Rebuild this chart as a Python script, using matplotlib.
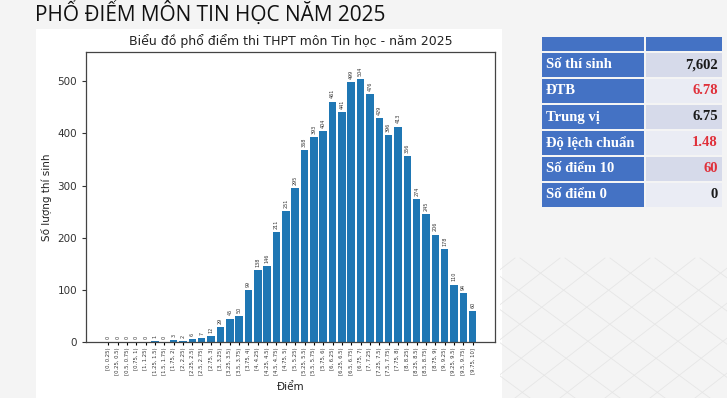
import numpy as np
import matplotlib.pyplot as plt
from matplotlib.patches import Rectangle

# khoảng điểm (40 khoảng, bước 0.25)
khoang = ["[0, 0.25)", "[0.25, 0.5)", "[0.5, 0.75)", "[0.75, 1)", "[1, 1.25)", "[1.25, 1.5)",
          "[1.5, 1.75)", "[1.75, 2)", "[2, 2.25)", "[2.25, 2.5)", "[2.5, 2.75)", "[2.75, 3)",
          "[3, 3.25)", "[3.25, 3.5)", "[3.5, 3.75)", "[3.75, 4)", "[4, 4.25)", "[4.25, 4.5)",
          "[4.5, 4.75)", "[4.75, 5)", "[5, 5.25)", "[5.25, 5.5)", "[5.5, 5.75)", "[5.75, 6)",
          "[6, 6.25)", "[6.25, 6.5)", "[6.5, 6.75)", "[6.75, 7)", "[7, 7.25)", "[7.25, 7.5)",
          "[7.5, 7.75)", "[7.75, 8)", "[8, 8.25)", "[8.25, 8.5)", "[8.5, 8.75)", "[8.75, 9)",
          "[9, 9.25)", "[9.25, 9.5)", "[9.5, 9.75)", "[9.75, 10]"]
so_luong = [0, 0, 0, 0, 0, 1, 0, 3, 2, 6, 7, 12, 29, 45, 50, 99, 138, 146, 211, 251,
            295, 368, 393, 404, 461, 441, 499, 504, 476, 429, 396, 413, 356, 274, 245, 206,
            178, 110, 94, 60]

# bảng thống kê
ten_chi_so = ["Số thí sinh", "ĐTB", "Trung vị", "Độ lệch chuẩn", "Số điểm 10", "Số điểm 0"]
gia_tri = ["7,602", "6.78", "6.75", "1.48", "60", "0"]
mau_gia_tri = ["#1a1a1a", "#e0303a", "#1a1a1a", "#e0303a", "#e0303a", "#1a1a1a"]

W, H = 727, 398
fig = plt.figure(figsize=(W / 100, H / 100), dpi=100, facecolor="#f4f4f4")

# nền trắng của ảnh biểu đồ
fig.patches.append(Rectangle((36 / W, 0), (502 - 36) / W, (H - 29) / H,
                             transform=fig.transFigure, facecolor="white", edgecolor="none", zorder=-5))

# lưới trang trí góc dưới phải (phối cảnh)
deco = fig.add_axes([500 / W, 0, 227 / W, 150 / H], zorder=-4)
deco.set_xlim(0, 227)
deco.set_ylim(0, 150)
deco.axis("off")
for k in range(-3, 8):
    deco.plot([k * 45 - 30, k * 45 + 150], [0, 140], color="#e6e6e6", lw=0.6)
    deco.plot([k * 45 + 120, k * 45 - 70], [0, 140], color="#e6e6e6", lw=0.6)

fig.text(35 / W, 1 - 13 / H, "PHỔ ĐIỂM MÔN TIN HỌC NĂM 2025", family="Open Sans",
         fontsize=15, color="#111111", va="center", ha="left")

ax = fig.add_axes([86 / W, 1 - 342 / H, (495 - 86) / W, (342 - 52) / H])
x = np.arange(len(so_luong))
bars = ax.bar(x, so_luong, width=0.8, color="#1f77b4")
for xi, v in zip(x, so_luong):
    ax.text(xi, v + 6, str(v), rotation=90, ha="center", va="bottom", fontsize=3.5, color="#333333")
ax.set_ylim(0, 556)
ax.set_xticks(x)
ax.set_xticklabels(khoang, rotation=90, fontsize=3.8, color="#333333")
ax.tick_params(axis="y", labelsize=7.5, colors="#333333", length=3)
ax.tick_params(axis="x", length=2.5, pad=1.5)
ax.set_xlabel("Điểm", fontsize=7.5, color="#222222", labelpad=5)
ax.set_ylabel("Số lượng thí sinh", fontsize=7.5, color="#222222")
ax.set_title("Biểu đồ phổ điểm thi THPT môn Tin học - năm 2025", fontsize=9, color="#222222", pad=5)
for s in ax.spines.values():
    s.set_color("#444444")
    s.set_linewidth(0.9)

# bảng bên phải
tb = fig.add_axes([0, 0, 1, 1])
tb.set_xlim(0, W)
tb.set_ylim(H, 0)
tb.axis("off")
blue = "#4472c4"
tb.add_patch(Rectangle((542, 36.5), 102, 14, facecolor=blue, edgecolor="none"))
tb.add_patch(Rectangle((646, 36.5), 76, 14, facecolor=blue, edgecolor="none"))
y0, rh = 53, 26
for i, (ten, gt, mc) in enumerate(zip(ten_chi_so, gia_tri, mau_gia_tri)):
    top = y0 + i * rh
    nen = "#d6daea" if i % 2 == 0 else "#eaecf4"
    tb.add_patch(Rectangle((542, top), 102, rh - 2, facecolor=blue, edgecolor="none"))
    tb.add_patch(Rectangle((646, top), 76, rh - 2, facecolor=nen, edgecolor="none"))
    tb.text(546, top + (rh - 2) / 2, ten, family="Liberation Serif", fontweight="bold",
            fontsize=10.5, color="white", va="center", ha="left")
    tb.text(718, top + (rh - 2) / 2, gt, family="Liberation Serif", fontweight="bold",
            fontsize=10.5, color=mc, va="center", ha="right")

fig.savefig("out.png", dpi=100, facecolor=fig.get_facecolor())
